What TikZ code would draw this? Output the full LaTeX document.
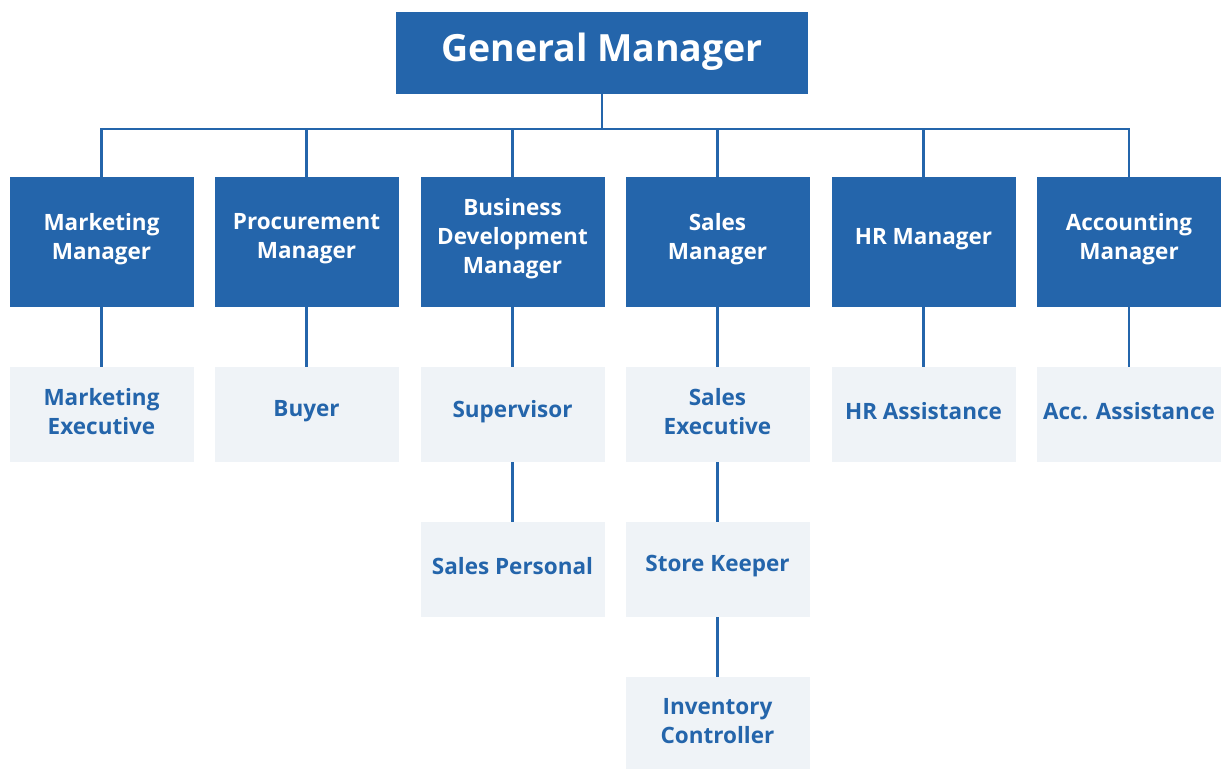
\documentclass[tikz,border=0pt]{standalone}
\usepackage{fontspec}
\setmainfont{Open Sans}
\definecolor{dblue}{HTML}{2465AB}
\definecolor{lbg}{HTML}{EFF3F7}
\begin{document}
\begin{tikzpicture}[x=1pt,y=-1pt,
  gmbox/.style={fill=dblue, minimum width=412pt, minimum height=82pt, inner sep=0pt},
  mgr/.style={fill=dblue, minimum width=184pt, minimum height=130pt, inner sep=0pt},
  sub/.style={fill=lbg, minimum width=184pt, minimum height=95pt, inner sep=0pt},
  gmtxt/.style={text=white, font=\bfseries\fontsize{37.5}{44}\selectfont, yshift=1pt},
  mtxt/.style={text=white, font=\bfseries\fontsize{22.5}{29}\selectfont, align=center, yshift=3pt},
  stxt/.style={text=dblue, font=\bfseries\fontsize{22.5}{29}\selectfont, align=center, yshift=3pt},
  conn/.style={draw=dblue, line width=2.5pt}]
\useasboundingbox (0,0) rectangle (1225,768);
\clip (0,0) rectangle (1225,768);
% top
\node[gmbox, label={[gmtxt]center:General Manager}] (gm) at (602,53) {};
% managers
\node[mgr, label={[mtxt]center:Marketing\\Manager}] (m1) at (101.5,242) {};
\node[mgr, label={[mtxt]center:Procurement\\Manager}] (m2) at (306.5,242) {};
\node[mgr, label={[mtxt]center:Business\\Development\\Manager}] (m3) at (512.5,242) {};
\node[mgr, label={[mtxt]center:Sales\\Manager}] (m4) at (717.5,242) {};
\node[mgr, label={[mtxt]center:HR Manager}] (m5) at (923.5,242) {};
\node[mgr, label={[mtxt]center:Accounting\\Manager}] (m6) at (1129,242) {};
% subordinates
\node[sub, label={[stxt]center:Marketing\\Executive}] (s1) at (101.5,414.5) {};
\node[sub, label={[stxt]center:Buyer}] (s2) at (306.5,414.5) {};
\node[sub, label={[stxt]center:Supervisor}] (s3) at (512.5,414.5) {};
\node[sub, label={[stxt]center:Sales\\Executive}] (s4) at (717.5,414.5) {};
\node[sub, label={[stxt]center:HR Assistance}] (s5) at (923.5,414.5) {};
\node[sub, label={[stxt]center:Acc. Assistance}] (s6) at (1129,414.5) {};
\node[sub, label={[stxt]center:Sales Personal}] (t3) at (512.5,569.5) {};
\node[sub, label={[stxt]center:Store Keeper}] (t4) at (717.5,569.5) {};
\node[sub, label={[stxt]center:Inventory\\Controller}] (u4) at (717.5,724.5) {};
% connectors
\coordinate (bus) at (602,129);
\draw[conn] (gm.south) -- (bus);
\foreach \m in {m1,m2,m3,m4,m5,m6} {\draw[conn] (bus) -| (\m.north);}
\draw[conn] (m1.south) -- (s1.north);
\draw[conn] (m2.south) -- (s2.north);
\draw[conn] (m3.south) -- (s3.north);
\draw[conn] (m4.south) -- (s4.north);
\draw[conn] (m5.south) -- (s5.north);
\draw[conn] (m6.south) -- (s6.north);
\draw[conn] (s3.south) -- (t3.north);
\draw[conn] (s4.south) -- (t4.north);
\draw[conn] (t4.south) -- (u4.north);
\end{tikzpicture}
\end{document}
